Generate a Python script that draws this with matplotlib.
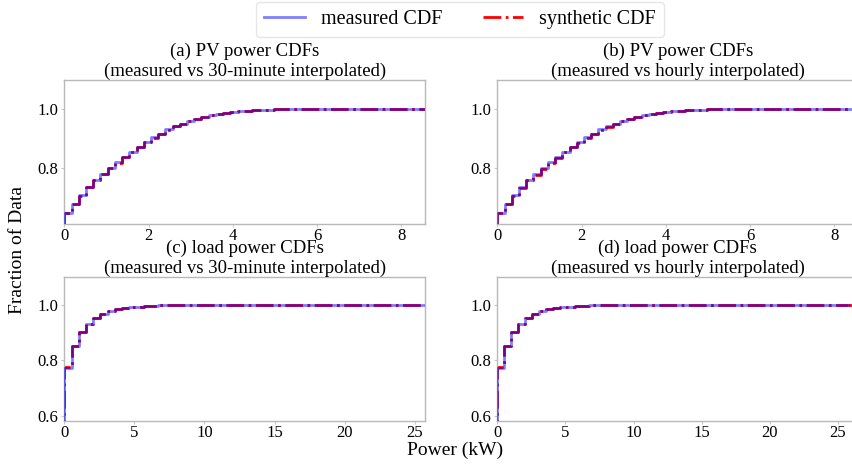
"""
Measured vs synthetic CDFs of PV and load power (2x2 panels).
"""
import numpy as np
import matplotlib
matplotlib.use("Agg")
import matplotlib.pyplot as plt

plt.rcParams['font.family'] = ['Liberation Serif', 'DejaVu Serif']

# maximum power seen in each data set (kW); histograms use 50 bins from 0
pv_max_kw = 8.57
load_max_kw = 25.76
load_hourly_max_kw = 26.5
n_bins = 50

# cumulative fraction per bin
pv_measured = [0.646, 0.678, 0.706, 0.734, 0.759, 0.780, 0.800, 0.819, 0.836, 0.855,
               0.872, 0.887, 0.904, 0.917, 0.931, 0.942, 0.951, 0.960, 0.967, 0.973,
               0.979, 0.984, 0.988, 0.991, 0.993, 0.995, 0.997, 0.998, 0.999, 0.9995,
               0.9997, 0.9998, 0.9999, 1.0, 1.0, 1.0, 1.0, 1.0, 1.0, 1.0,
               1.0, 1.0, 1.0, 1.0, 1.0, 1.0, 1.0, 1.0, 1.0, 1.0]
pv_synth_30min = [0.645, 0.677, 0.705, 0.733, 0.758, 0.779, 0.799, 0.818, 0.836, 0.854,
                  0.871, 0.887, 0.903, 0.917, 0.930, 0.942, 0.951, 0.959, 0.967, 0.973,
                  0.979, 0.984, 0.988, 0.991, 0.993, 0.995, 0.997, 0.998, 0.999, 0.9995,
                  0.9997, 0.9998, 0.9999, 1.0, 1.0, 1.0, 1.0, 1.0, 1.0, 1.0,
                  1.0, 1.0, 1.0, 1.0, 1.0, 1.0, 1.0, 1.0, 1.0, 1.0]
pv_synth_hourly = [0.645, 0.677, 0.704, 0.732, 0.757, 0.777, 0.797, 0.817, 0.835, 0.853,
                   0.870, 0.886, 0.903, 0.916, 0.930, 0.941, 0.951, 0.959, 0.966, 0.973,
                   0.979, 0.984, 0.988, 0.991, 0.993, 0.995, 0.997, 0.998, 0.999, 0.9995,
                   0.9997, 0.9998, 0.9999, 1.0, 1.0, 1.0, 1.0, 1.0, 1.0, 1.0,
                   1.0, 1.0, 1.0, 1.0, 1.0, 1.0, 1.0, 1.0, 1.0, 1.0]

load_measured = [0.774, 0.851, 0.900, 0.931, 0.951, 0.966, 0.976, 0.983, 0.988, 0.991,
                 0.993, 0.995, 0.996, 0.997, 0.998, 0.9985, 0.999, 0.9993, 0.9995, 0.9997,
                 0.9998, 0.9999, 1.0, 1.0, 1.0, 1.0, 1.0, 1.0, 1.0, 1.0,
                 1.0, 1.0, 1.0, 1.0, 1.0, 1.0, 1.0, 1.0, 1.0, 1.0,
                 1.0, 1.0, 1.0, 1.0, 1.0, 1.0, 1.0, 1.0, 1.0, 1.0]
load_synth_30min = [0.777, 0.852, 0.901, 0.931, 0.951, 0.966, 0.976, 0.983, 0.988, 0.991,
                    0.993, 0.995, 0.996, 0.997, 0.998, 0.9985, 0.999, 0.9993, 0.9995, 0.9997,
                    0.9998, 0.9999, 1.0, 1.0, 1.0, 1.0, 1.0, 1.0, 1.0, 1.0,
                    1.0, 1.0, 1.0, 1.0, 1.0, 1.0, 1.0, 1.0, 1.0, 1.0,
                    1.0, 1.0, 1.0, 1.0, 1.0, 1.0, 1.0, 1.0, 1.0, 1.0]
load_synth_hourly = [0.775, 0.852, 0.900, 0.931, 0.951, 0.966, 0.976, 0.983, 0.988, 0.991,
                     0.993, 0.995, 0.996, 0.997, 0.998, 0.9985, 0.999, 0.9993, 0.9995, 0.9997,
                     0.9998, 0.9999, 1.0, 1.0, 1.0, 1.0, 1.0, 1.0, 1.0, 1.0,
                     1.0, 1.0, 1.0, 1.0, 1.0, 1.0, 1.0, 1.0, 1.0, 1.0,
                     1.0, 1.0, 1.0, 1.0, 1.0, 1.0, 1.0, 1.0, 1.0, 1.0]

titles = ["(a) PV power CDFs\n(measured vs 30-minute interpolated)",
          "(b) PV power CDFs\n(measured vs hourly interpolated)",
          "(c) load power CDFs\n(measured vs 30-minute interpolated)",
          "(d) load power CDFs\n(measured vs hourly interpolated)"]


def step_xy(cdf, x_max):
    """Outline of a cumulative step histogram, without the closing drop."""
    edges = np.linspace(0, x_max, n_bins + 1)
    x = np.repeat(edges, 2)[:-1]
    y = np.concatenate([[0], np.repeat(cdf, 2)])
    return x, y


W, H = 852, 466
fig = plt.figure(figsize=(W / 100, H / 100), dpi=100)

# axes boxes in pixels: left, top, width, height
boxes = [(64.3, 80, 361, 144), (497.3, 80, 361, 144),
         (64.3, 276.7, 361, 144.6), (497.3, 276.7, 361, 144.6)]
panels = [(pv_measured, pv_synth_30min, pv_max_kw, pv_max_kw),
          (pv_measured, pv_synth_hourly, pv_max_kw, pv_max_kw),
          (load_measured, load_synth_30min, load_max_kw, load_max_kw),
          (load_measured, load_synth_hourly, load_max_kw, load_hourly_max_kw)]

for i, ((meas, synth, xmax, xlim), (l, t, w, h)) in enumerate(zip(panels, boxes)):
    ax = fig.add_axes([l / W, 1 - (t + h) / H, w / W, h / H])
    xs, ys = step_xy(synth, xmax)
    ax.plot(xs, ys, color='red', linestyle='-.', linewidth=2, label='synthetic CDF', zorder=2)
    xm, ym = step_xy(meas, xmax)
    ax.plot(xm, ym, color='blue', alpha=0.5, linewidth=2, label='measured CDF', zorder=3)
    if xlim > xmax:
        # longer synthetic series: keep both curves at 1.0 up to its max
        ax.plot([xmax, xlim], [synth[-1], synth[-1]], color='red', linestyle='-.',
                linewidth=2, zorder=2)

    ax.set_xlim(0, xlim)
    if xmax == pv_max_kw:
        ax.set_ylim(0.608, 1.1)
        ax.set_yticks([0.8, 1.0])
        ax.set_xticks([0, 2, 4, 6, 8])
    else:
        ax.set_ylim(0.581, 1.1)
        ax.set_yticks([0.6, 0.8, 1.0])
        ax.set_xticks([0, 5, 10, 15, 20, 25])
    ax.set_title(titles[i], fontsize=13.5, pad=1)
    ax.tick_params(labelsize=12, length=2, color='#c8c8c8', pad=2)
    ax.tick_params(axis='x', pad=1)
    for sp in ax.spines.values():
        sp.set_color('#b8b8b8')
        sp.set_linewidth(1)

handles, labels = fig.axes[0].get_legend_handles_labels()
fig.legend(handles[::-1], labels[::-1], loc='upper center', ncol=2,
           bbox_to_anchor=(460 / W, 1 - 2 / H), fontsize=14.5, borderaxespad=0,
           frameon=True, edgecolor='#e0e0e0', fancybox=True)

fig.text(18 / W, 1 - 250 / H, "Fraction of Data", rotation=90,
         ha='center', va='center', fontsize=14)
fig.text(455 / W, 1 - 450 / H, "Power (kW)", ha='center', va='center', fontsize=14)

fig.savefig("out.png", dpi=100)
